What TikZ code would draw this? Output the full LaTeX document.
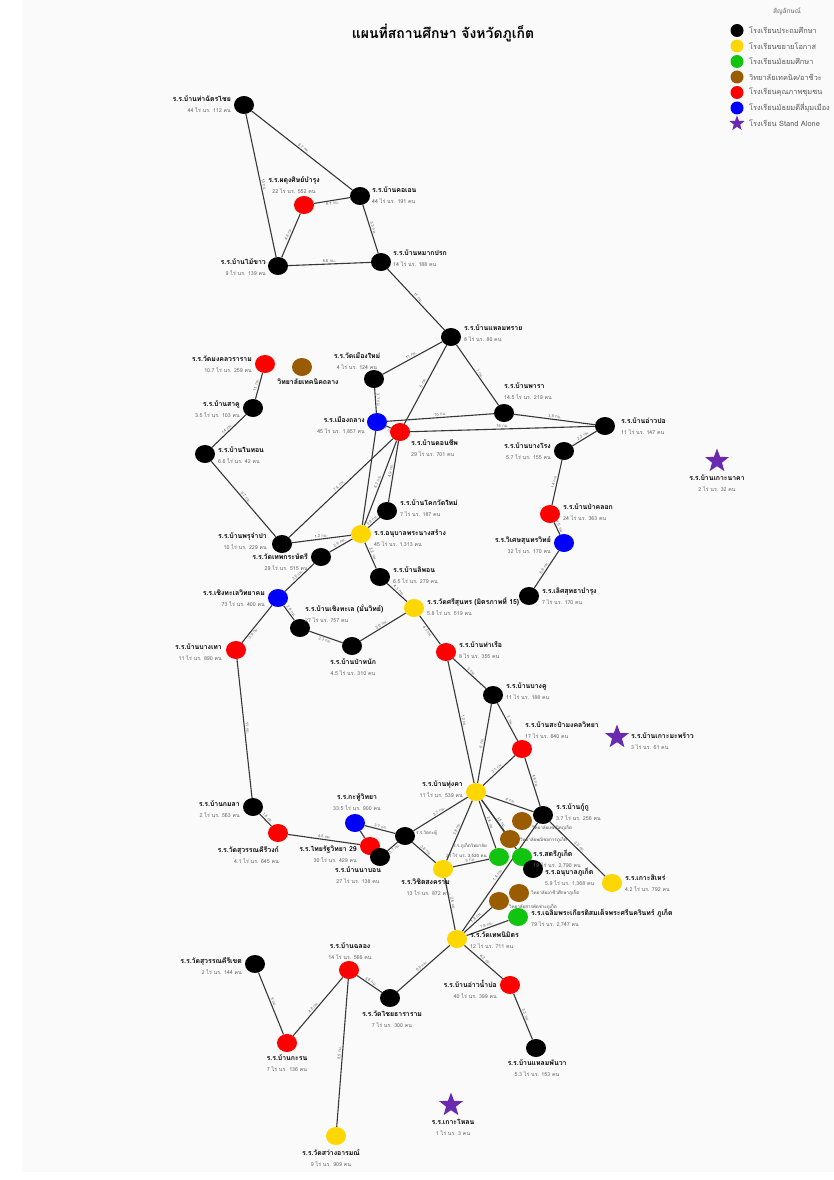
\documentclass[tikz,border=0pt]{standalone}
\usepackage{fontspec}
\setmainfont{Loma}[Script=Thai]
\usepackage{tikz}
\usetikzlibrary{shapes.geometric,backgrounds,positioning}
\definecolor{cyel}{HTML}{FFD700}
\definecolor{cgrn}{HTML}{10C410}
\definecolor{cbrn}{HTML}{9A5C00}
\definecolor{cred}{HTML}{FF0000}
\definecolor{cblu}{HTML}{0000FF}
\definecolor{cpur}{HTML}{6A2AB0}
\tikzstyle{sch}=[
	ellipse,
	minimum width=20,
	minimum height=18,
	inner sep=0]
\tikzstyle{prim}=[sch,fill=black]
\tikzstyle{ext}=[sch,fill=cyel]
\tikzstyle{sec}=[sch,fill=cgrn]
\tikzstyle{voc}=[sch,fill=cbrn]
\tikzstyle{qual}=[sch,fill=cred]
\tikzstyle{near}=[sch,fill=cblu]
\tikzstyle{alone}=[
	star,
	star points=5,
	star point ratio=2.4,
	minimum size=25,
	inner sep=0,
	fill=cpur]
\tikzstyle{road}=[draw=black!78,line width=1.1]
\tikzstyle{km}=[midway,sloped,above,inner sep=1,font=\fontsize{4}{4.5}\selectfont,text=black!60]
\tikzstyle{lr}=[anchor=west,align=left,inner sep=1]
\tikzstyle{ll}=[anchor=east,align=right,inner sep=1]
\tikzstyle{lb}=[anchor=north,align=center,inner sep=1]
\tikzstyle{la}=[anchor=south,align=center,inner sep=1]
\newcommand{\nm}[2]{{\fontsize{6.9}{7.2}\selectfont\bfseries #1}\\[-1pt]{\fontsize{5.3}{5.8}\selectfont\color{black!60}#2}}
\newcommand{\sm}[1]{{\fontsize{4.5}{5}\selectfont\color{black!70}#1}}
\begin{document}
\begin{tikzpicture}[x=1pt,y=-1pt]
\useasboundingbox (0,0) rectangle (834,1180);
\node[font=\fontsize{14}{16}\selectfont\bfseries] (title) at (443,33) {แผนที่สถานศึกษา จังหวัดภูเก็ต};
\begin{scope}
	\node[text=black!60,font=\fontsize{6.5}{7}\selectfont] (legtitle) at (787,11) {สัญลักษณ์};
	\foreach \sty/\txt [count=\i] in {prim/โรงเรียนประถมศึกษา,ext/โรงเรียนขยายโอกาส,sec/โรงเรียนมัธยมศึกษา,voc/{วิทยาลัยเทคนิค/อาชีวะ},qual/โรงเรียนคุณภาพชุมชน,near/โรงเรียนมัธยมดีสี่มุมเมือง}{
		\node[\sty,minimum width=13,minimum height=13] (leg\i) at (737,15.5*\i+15) {};
		\node[anchor=west,inner sep=0,text=black!65,font=\fontsize{7.4}{8}\selectfont] at (749,15.5*\i+15) {\txt};
	}
	\node[alone,minimum size=16] (leg7) at (737,123.5) {};
	\node[anchor=west,inner sep=0,text=black!65,font=\fontsize{7.4}{8}\selectfont] at (749,123.5) {โรงเรียน Stand Alone};
\end{scope}
\begin{scope}
	\node[prim]	(thachat)	at (244,105)	{};
	\node[prim]	(khoen)	at (360,196)	{};
	\node[qual]	(padung)	at (304,205)	{};
	\node[prim]	(maikhao)	at (278,266)	{};
	\node[prim]	(makprok)	at (381,262)	{};
	\node[prim]	(laemsai)	at (451,337)	{};
	\node[prim]	(mueangmai)	at (374,379)	{};
	\node[near]	(thalang)	at (377,422)	{};
	\node[qual]	(donchip)	at (400,432)	{};
	\node[prim]	(phara)	at (504,413)	{};
	\node[prim]	(aopo)	at (605,426)	{};
	\node[prim]	(bangrong)	at (564,451)	{};
	\node[qual]	(paklok)	at (550,514)	{};
	\node[near]	(wiset)	at (564,543)	{};
	\node[prim]	(loetsut)	at (529,596)	{};
	\node[qual]	(mongkhon)	at (265,364)	{};
	\node[voc]	(tcthalang)	at (302,367)	{};
	\node[prim]	(sakhu)	at (253,408)	{};
	\node[prim]	(naithon)	at (205,454)	{};
	\node[prim]	(khokwat)	at (387,511)	{};
	\node[ext]	(phranang)	at (361,534)	{};
	\node[prim]	(prujampa)	at (282,544)	{};
	\node[prim]	(thepkasat)	at (321,557)	{};
	\node[prim]	(liphon)	at (380,577)	{};
	\node[near]	(choengtl)	at (278,598)	{};
	\node[prim]	(bchoeng)	at (300,628)	{};
	\node[prim]	(panak)	at (352,646)	{};
	\node[ext]	(srisunthon)	at (414,608)	{};
	\node[qual]	(bangtao)	at (236,650)	{};
	\node[qual]	(tharua)	at (446,652)	{};
	\node[prim]	(bangkhu)	at (493,695)	{};
	\node[qual]	(sapam)	at (522,749)	{};
	\node[alone]	(komaphrao)	at (617,737)	{};
	\node[alone]	(konaka)	at (717,461)	{};
	\node[ext]	(thungkha)	at (476,792)	{};
	\node[prim]	(kuku)	at (543,815)	{};
	\node[prim]	(kamala)	at (253,807)	{};
	\node[qual]	(suwankw)	at (278,833)	{};
	\node[near]	(kathuwit)	at (355,823)	{};
	\node[qual]	(thairat)	at (370,846)	{};
	\node[prim]	(nabon)	at (380,857)	{};
	\node[prim]	(watkathu)	at (405,836)	{};
	\node[ext]	(wichit)	at (443,869)	{};
	\node[sec]	(pkwit)	at (499,857)	{};
	\node[sec]	(satri)	at (522,857)	{};
	\node[voc]	(tcpk)	at (522,821)	{};
	\node[voc]	(pnpk)	at (510,839)	{};
	\node[prim]	(anuban)	at (533,869)	{};
	\node[voc]	(acpk)	at (519,893)	{};
	\node[voc]	(spcpk)	at (499,901)	{};
	\node[ext]	(sire)	at (612,883)	{};
	\node[sec]	(chaloem)	at (518,917)	{};
	\node[ext]	(thepnimit)	at (457,939)	{};
	\node[qual]	(aonambo)	at (510,985)	{};
	\node[prim]	(panwa)	at (536,1048)	{};
	\node[prim]	(chaiya)	at (390,998)	{};
	\node[qual]	(chalong)	at (349,970)	{};
	\node[prim]	(suwankk)	at (255,964)	{};
	\node[qual]	(karon)	at (287,1043)	{};
	\node[ext]	(sawang)	at (336,1136)	{};
	\node[alone]	(kolon)	at (451,1105)	{};
\end{scope}
\begin{scope}[on background layer]
	\fill[black!2] (22,0) rectangle (834,1172);
	\draw[road] (thachat) -- node[km]{8.7 กม.} (khoen);
	\draw[road] (thachat) -- node[km]{13 กม.} (maikhao);
	\draw[road] (padung) -- node[km,below]{4.7 กม.} (khoen);
	\draw[road] (padung) -- node[km]{4.8 กม.} (maikhao);
	\draw[road] (maikhao) -- node[km]{6.6 กม.} (makprok);
	\draw[road] (khoen) -- node[km]{5.5 กม.} (makprok);
	\draw[road] (makprok) -- node[km]{11 กม.} (laemsai);
	\draw[road] (laemsai) -- node[km]{11 กม.} (mueangmai);
	\draw[road] (laemsai) -- node[km]{5 กม.} (donchip);
	\draw[road] (laemsai) -- node[km]{7 กม.} (phara);
	\draw[road] (mueangmai) -- node[km]{3.1 กม.} (thalang);
	\draw[road] (thalang) -- node[km]{10 กม.} (phara);
	\draw[road] (donchip) -- node[km]{16 กม.} (aopo);
	\draw[road] (phara) -- node[km]{3.8 กม.} (aopo);
	\draw[road] (aopo) -- node[km]{2.3 กม.} (bangrong);
	\draw[road] (bangrong) -- node[km]{14 กม.} (paklok);
	\draw[road] (paklok) -- node[km]{1.5 กม.} (wiset);
	\draw[road] (wiset) -- node[km]{6.6 กม.} (loetsut);
	\draw[road] (thalang) -- node[km,below]{1.1 กม.} (donchip);
	\draw[road] (donchip) -- node[km]{4.9 กม.} (khokwat);
	\draw[road] (donchip) -- node[km]{6.7 กม.} (phranang);
	\draw[road] (thalang) -- (phranang);
	\draw[road] (donchip) -- node[km]{7.4 กม.} (prujampa);
	\draw[road] (mongkhon) -- node[km]{11 กม.} (sakhu);
	\draw[road] (sakhu) -- node[km]{14 กม.} (naithon);
	\draw[road] (naithon) -- node[km]{5.7 กม.} (prujampa);
	\draw[road] (prujampa) -- node[km]{1.2 กม.} (phranang);
	\draw[road] (phranang) -- node[km]{0.8 กม.} (khokwat);
	\draw[road] (phranang) -- node[km]{2.9 กม.} (thepkasat);
	\draw[road] (phranang) -- node[km]{2.2 กม.} (liphon);
	\draw[road] (liphon) -- node[km]{4.1 กม.} (srisunthon);
	\draw[road] (thepkasat) -- node[km]{3.5 กม.} (choengtl);
	\draw[road] (choengtl) -- node[km]{2.8 กม.} (bchoeng);
	\draw[road] (bchoeng) -- node[km,below]{2.3 กม.} (panak);
	\draw[road] (panak) -- node[km]{5.6 กม.} (srisunthon);
	\draw[road] (choengtl) -- node[km,below,pos=0.7]{3.9 กม.} (bangtao);
	\draw[road] (srisunthon) -- node[km,below]{4.1 กม.} (tharua);
	\draw[road] (bangtao) -- node[km]{11 กม.} (kamala);
	\draw[road] (kamala) -- node[km]{1.8 กม.} (suwankw);
	\draw[road] (suwankw) -- node[km]{4.5 กม.} (thairat);
	\draw[road] (kathuwit) -- node[km]{3.7 กม.} (watkathu);
	\draw[road] (kathuwit) -- (thairat);
	\draw[road] (watkathu) -- node[km,below]{3.1 กม.} (nabon);
	\draw[road] (watkathu) -- node[km]{3.7 กม.} (thungkha);
	\draw[road] (watkathu) -- node[km]{3.6 กม.} (wichit);
	\draw[road] (tharua) -- node[km]{12 กม.} (thungkha);
	\draw[road] (tharua) -- node[km]{3 กม.} (bangkhu);
	\draw[road] (bangkhu) -- node[km]{6 กม.} (thungkha);
	\draw[road] (bangkhu) -- node[km]{3 กม.} (sapam);
	\draw[road] (sapam) -- node[km]{3.1 กม.} (thungkha);
	\draw[road] (sapam) -- node[km]{4.6 กม.} (kuku);
	\draw[road] (thungkha) -- node[km]{4 กม.} (kuku);
	\draw[road] (thungkha) -- node[km]{3.8 กม.} (wichit);
	\draw[road] (thungkha) -- node[km]{2.8 กม.} (pkwit);
	\draw[road] (thungkha) -- node[km]{3.5 กม.} (satri);
	\draw[road] (thungkha) -- (pnpk);
	\draw[road] (kuku) -- node[km]{3.5 กม.} (sire);
	\draw[road] (kuku) -- node[km]{1.4 กม.} (thepnimit);
	\draw[road] (wichit) -- node[km]{5 กม.} (pkwit);
	\draw[road] (wichit) -- node[km]{2.8 กม.} (thepnimit);
	\draw[road] (thepnimit) -- node[km]{1.8 กม.} (spcpk);
	\draw[road] (thepnimit) -- node[km]{1.9 กม.} (chaloem);
	\draw[road] (thepnimit) -- node[km]{4.2 กม.} (aonambo);
	\draw[road] (aonambo) -- node[km]{3.3 กม.} (panwa);
	\draw[road] (thepnimit) -- node[km]{6.5 กม.} (chaiya);
	\draw[road] (chaiya) -- node[km]{3.6 กม.} (chalong);
	\draw[road] (chalong) -- node[km,pos=0.55]{4.8 กม.} (karon);
	\draw[road] (suwankk) -- node[km]{5 กม.} (karon);
	\draw[road] (chalong) -- node[km]{8.5 กม.} (sawang);
\end{scope}
\begin{scope}
	\node[ll] at (232,104) {\nm{ร.ร.บ้านท่าฉัตรไชย}{44 ไร่ นร. 112 คน}};
	\node[lr] at (371,195) {\nm{ร.ร.บ้านคอเอน}{44 ไร่ นร. 191 คน}};
	\node[la] at (294,195) {\nm{ร.ร.ผดุงศิษย์บำรุง}{22 ไร่ นร. 552 คน}};
	\node[ll] at (267,267) {\nm{ร.ร.บ้านไม้ขาว}{9 ไร่ นร. 139 คน}};
	\node[lr] at (392,258) {\nm{ร.ร.บ้านหมากปรก}{14 ไร่ นร. 188 คน}};
	\node[lr] at (463,333) {\nm{ร.ร.บ้านแหลมทราย}{8 ไร่ นร. 80 คน}};
	\node[la] at (357,371) {\nm{ร.ร.วัดเมืองใหม่}{4 ไร่ นร. 124 คน}};
	\node[ll] at (366,425) {\nm{ร.ร.เมืองถลาง}{45 ไร่ นร. 1,857 คน}};
	\node[anchor=north west,align=left,inner sep=1] at (410,438) {\nm{ร.ร.บ้านดอนชีพ}{29 ไร่ นร. 701 คน}};
	\node[anchor=south west,align=left,inner sep=1] at (503,401) {\nm{ร.ร.บ้านพารา}{14.5 ไร่ นร. 219 คน}};
	\node[lr] at (620,426) {\nm{ร.ร.บ้านอ่าวปอ}{11 ไร่ นร. 147 คน}};
	\node[ll] at (552,451) {\nm{ร.ร.บ้านบางโรง}{5.7 ไร่ นร. 155 คน}};
	\node[lr] at (562,512) {\nm{ร.ร.บ้านป่าคลอก}{24 ไร่ นร. 363 คน}};
	\node[ll] at (552,545) {\nm{ร.ร.วิเศษสุนทรวิทย์}{32 ไร่ นร. 170 คน}};
	\node[lr] at (541,596) {\nm{ร.ร.เลิศสุทธาบำรุง}{7 ไร่ นร. 170 คน}};
	\node[ll] at (253,364) {\nm{ร.ร.วัดมงคลวราราม}{10.7 ไร่ นร. 259 คน}};
	\node[lb,font=\fontsize{6.9}{7.2}\selectfont\bfseries] at (308,378) {วิทยาลัยเทคนิคถลาง};
	\node[ll] at (241,409) {\nm{ร.ร.บ้านสาคู}{3.5 ไร่ นร. 103 คน}};
	\node[lr] at (217,455) {\nm{ร.ร.บ้านในทอน}{6.6 ไร่ นร. 42 คน}};
	\node[lr] at (399,508) {\nm{ร.ร.บ้านโคกวัดใหม่}{7 ไร่ นร. 187 คน}};
	\node[lr] at (373,538) {\nm{ร.ร.อนุบาลพระนางสร้าง}{45 ไร่ นร. 1,313 คน}};
	\node[ll] at (268,541) {\nm{ร.ร.บ้านพรุจำปา}{10 ไร่ นร. 229 คน}};
	\node[ll] at (309,562) {\nm{ร.ร.วัดเทพกระษัตรี}{29 ไร่ นร. 515 คน}};
	\node[lr] at (392,575) {\nm{ร.ร.บ้านลิพอน}{6.5 ไร่ นร. 279 คน}};
	\node[ll] at (266,598) {\nm{ร.ร.เชิงทะเลวิทยาคม}{73 ไร่ นร. 400 คน}};
	\node[anchor=north west,align=left,inner sep=1] at (304,603) {\nm{ร.ร.บ้านเชิงทะเล (มั่นวิทย์)}{27 ไร่ นร. 757 คน}};
	\node[lb] at (353,658) {\nm{ร.ร.บ้านป่าหนัก}{4.5 ไร่ นร. 310 คน}};
	\node[lr] at (426,606) {\nm{ร.ร.วัดศรีสุนทร (มิตรภาพที่ 15)}{5.8 ไร่ นร. 519 คน}};
	\node[ll] at (223,652) {\nm{ร.ร.บ้านบางเทา}{11 ไร่ นร. 890 คน}};
	\node[lr] at (458,650) {\nm{ร.ร.บ้านท่าเรือ}{8 ไร่ นร. 355 คน}};
	\node[lr] at (505,691) {\nm{ร.ร.บ้านบางคู}{11 ไร่ นร. 188 คน}};
	\node[anchor=south west,align=left,inner sep=1] at (524,740) {\nm{ร.ร.บ้านสะปำมงคลวิทยา}{17 ไร่ นร. 640 คน}};
	\node[lr] at (630,741) {\nm{ร.ร.บ้านเกาะมะพร้าว}{3 ไร่ นร. 61 คน}};
	\node[lb] at (717,474) {\nm{ร.ร.บ้านเกาะนาคา}{2 ไร่ นร. 32 คน}};
	\node[ll] at (464,789) {\nm{ร.ร.บ้านทุ่งคา}{11 ไร่ นร. 539 คน}};
	\node[lr] at (555,812) {\nm{ร.ร.บ้านกู้กู}{3.7 ไร่ นร. 256 คน}};
	\node[ll] at (241,809) {\nm{ร.ร.บ้านกมลา}{2 ไร่ นร. 563 คน}};
	\node[anchor=north east,align=right,inner sep=1] at (280,845) {\nm{ร.ร.วัดสุวรรณคีรีวงก์}{4.1 ไร่ นร. 645 คน}};
	\node[la] at (357,812) {\nm{ร.ร.กะทู้วิทยา}{33.5 ไร่ นร. 900 คน}};
	\node[anchor=north east,align=right,inner sep=1] at (358,845) {\nm{ร.ร.ไทยรัฐวิทยา 29}{30 ไร่ นร. 429 คน}};
	\node[lb] at (358,866) {\nm{ร.ร.บ้านนาบอน}{27 ไร่ นร. 138 คน}};
	\node[lr] at (415,833) {\sm{ร.ร.วัดกะทู้}};
	\node[anchor=north east,align=right,inner sep=1] at (451,878) {\nm{ร.ร.วิชิตสงคราม}{13 ไร่ นร. 872 คน}};
	\node[ll] at (488,851) {\sm{ร.ร.ภูเก็ตวิทยาลัย}\\[-2pt]\sm{21 ไร่ นร. 3,520 คน}};
	\node[anchor=north west,align=left,inner sep=1] at (532,849) {\nm{ร.ร.สตรีภูเก็ต}{19 ไร่ นร. 2,790 คน}};
	\node[lr] at (531,828) {\sm{วิทยาลัยเทคนิคภูเก็ต}};
	\node[lr] at (519,840) {\sm{วิทยาลัยพณิชยการภูเก็ต}};
	\node[anchor=north west,align=left,inner sep=1] at (544,867) {\nm{ร.ร.อนุบาลภูเก็ต}{5.9 ไร่ นร. 1,368 คน}};
	\node[lr] at (530,893) {\sm{วิทยาลัยอาชีวศึกษาภูเก็ต}};
	\node[lr] at (508,907) {\sm{วิทยาลัยสารพัดช่างภูเก็ต}};
	\node[lr] at (624,883) {\nm{ร.ร.เกาะสิเหร่}{4.2 ไร่ นร. 792 คน}};
	\node[lr] at (530,918) {\nm{ร.ร.เฉลิมพระเกียรติสมเด็จพระศรีนครินทร์ ภูเก็ต}{79 ไร่ นร. 2,747 คน}};
	\node[lr] at (469,940) {\nm{ร.ร.วัดเทพนิมิตร}{12 ไร่ นร. 711 คน}};
	\node[ll] at (498,989) {\nm{ร.ร.บ้านอ่าวน้ำบ่อ}{40 ไร่ นร. 399 คน}};
	\node[lb] at (537,1059) {\nm{ร.ร.บ้านแหลมพันวา}{5.3 ไร่ นร. 153 คน}};
	\node[lb] at (392,1010) {\nm{ร.ร.วัดไชยธาราราม}{7 ไร่ นร. 300 คน}};
	\node[la] at (350,961) {\nm{ร.ร.บ้านฉลอง}{14 ไร่ นร. 566 คน}};
	\node[ll] at (243,966) {\nm{ร.ร.วัดสุวรรณคีรีเขต}{2 ไร่ นร. 144 คน}};
	\node[lb] at (287,1054) {\nm{ร.ร.บ้านกะรน}{7 ไร่ นร. 136 คน}};
	\node[lb] at (331,1148) {\nm{ร.ร.วัดสว่างอารมณ์}{9 ไร่ นร. 909 คน}};
	\node[lb] at (453,1118) {\nm{ร.ร.เกาะโหลน}{1 ไร่ นร. 3 คน}};
\end{scope}
\end{tikzpicture}
\end{document}
